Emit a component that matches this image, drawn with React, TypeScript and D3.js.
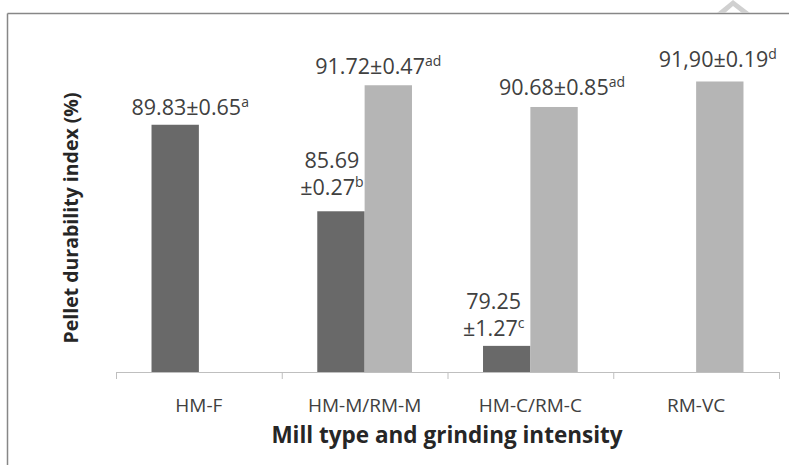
import { useMemo } from 'react';
import * as d3 from 'd3';

const WIDTH = 789;
const HEIGHT = 465;

// categories on the x axis
const categories = ['HM-F', 'HM-M/RM-M', 'HM-C/RM-C', 'RM-VC'];
const seriesNames = ['HM', 'RM'];

// means (null = no bar)
const hmValues = [89.83, 85.69, 79.25, null];
const rmValues = [null, 91.72, 90.68, 91.9];

// label text as printed in the figure
const hmLabels = [['89.83±0.65'], ['85.69', '±0.27'], ['79.25', '±1.27'], null];
const rmLabels = [null, ['91.72±0.47'], ['90.68±0.85'], ['91,90±0.19']];
const hmLetters = ['a', 'b', 'c', null];
const rmLetters = [null, 'ad', 'ad', 'd'];

const yDomain = [78, 94];

// manual nudges of the labels (the source had them dragged around)
const hmNudge = [{ dx: 15, dy: -10 }, { dx: -9, dy: -16 }, { dx: -13, dy: -10 }, null];
const rmNudge = [null, { dx: -10, dy: -11 }, { dx: 8, dy: -12 }, { dx: -2, dy: -14 }];

const COLORS = { HM: '#696969', RM: '#b5b5b5' };
const FONT = '"Open Sans", "Noto Sans", sans-serif';

const margin = { top: 37.6, left: 116, right: 10, bottom: 93 };

export default function App() {
  const x0 = useMemo(
    () => d3.scaleBand().domain(categories).range([margin.left, WIDTH - margin.right]).paddingInner(0).paddingOuter(0),
    []
  );
  const x1 = useMemo(
    () => d3.scaleBand().domain(seriesNames).range([0, x0.bandwidth()]).paddingInner(0).paddingOuter(0.75),
    [x0]
  );
  const y = d3.scaleLinear().domain(yDomain).range([HEIGHT - margin.bottom, margin.top]);
  const baseY = y(yDomain[0]);

  const series = [
    { name: 'HM', values: hmValues, labels: hmLabels, letters: hmLetters, nudge: hmNudge },
    { name: 'RM', values: rmValues, labels: rmLabels, letters: rmLetters, nudge: rmNudge },
  ];

  const bars = [];
  const labels = [];
  series.forEach((s) => {
    s.values.forEach((v, i) => {
      if (v === null) return;
      const bx = x0(categories[i]) + x1(s.name);
      const bw = x1.bandwidth();
      const top = y(v);
      bars.push(
        <rect key={`${s.name}-${i}`} x={bx} y={top} width={bw} height={baseY - top} fill={COLORS[s.name]} />
      );
      const lines = s.labels[i];
      const nudge = s.nudge[i];
      const cx = bx + bw / 2 + nudge.dx;
      const lastBase = top + nudge.dy;
      const lineH = 27;
      lines.forEach((line, li) => {
        const isLast = li === lines.length - 1;
        labels.push(
          <text
            key={`${s.name}-${i}-${li}`}
            x={cx}
            y={lastBase - (lines.length - 1 - li) * lineH}
            textAnchor="middle"
            fontFamily={FONT}
            fontSize={21.5}
            fill="#404040"
          >
            {line}
            {isLast && (
              <tspan fontSize={14} dy={-8}>
                {s.letters[i]}
              </tspan>
            )}
          </text>
        );
      });
    });
  });

  const tickXs = [...categories.map((c) => x0(c)), x0(categories[categories.length - 1]) + x0.bandwidth()];

  return (
    <svg width={WIDTH} height={HEIGHT} style={{ position: 'absolute', left: 0, top: 0, background: '#fff' }}>
      {/* outer frame, partly off the page */}
      <line x1={7.5} y1={13.5} x2={WIDTH} y2={13.5} stroke="#878787" strokeWidth={1.5} />
      <line x1={7.5} y1={13.5} x2={7.5} y2={HEIGHT} stroke="#878787" strokeWidth={1.5} />
      {/* bit of watermark poking in at the top */}
      <path d="M717,13 L733,0 L750,13 L742,13 L733,6 L725,13 Z" fill="#d0d0d0" />

      {bars}
      {labels}

      {/* x axis */}
      <line x1={tickXs[0]} x2={tickXs[tickXs.length - 1]} y1={baseY + 0.5} y2={baseY + 0.5} stroke="#bfbfbf" />
      {tickXs.map((t, i) => (
        <line key={i} x1={t + 0.5} x2={t + 0.5} y1={baseY} y2={baseY + 7} stroke="#bfbfbf" />
      ))}
      {categories.map((c) => (
        <text
          key={c}
          x={x0(c) + x0.bandwidth() / 2}
          y={412}
          textAnchor="middle"
          fontFamily={FONT}
          fontSize={19}
          fill="#404040"
        >
          {c}
        </text>
      ))}

      <text x={447} y={443} textAnchor="middle" fontFamily={FONT} fontSize={22.5} fontWeight="bold" fill="#262626">
        Mill type and grinding intensity
      </text>
      <text
        transform="translate(78,218) rotate(-90)"
        textAnchor="middle"
        fontFamily={FONT}
        fontSize={19.5}
        fontWeight="bold"
        fill="#262626"
      >
        Pellet durability index (%)
      </text>
    </svg>
  );
}
